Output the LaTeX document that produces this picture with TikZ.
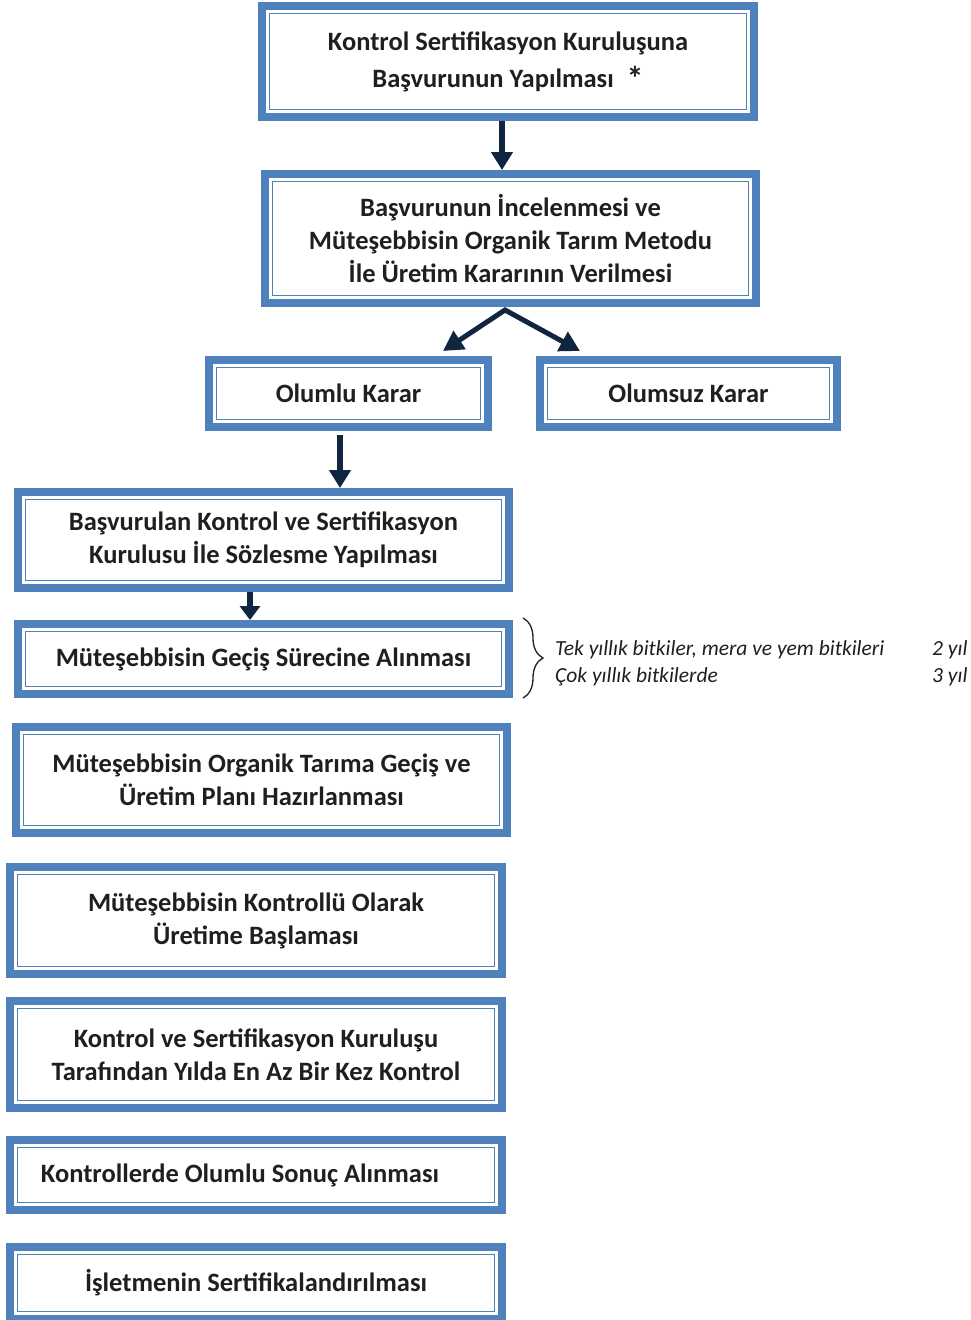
\documentclass[tikz,border=0pt]{standalone}
\usepackage{fontspec}
\setmainfont{Carlito}
\usetikzlibrary{arrows.meta,decorations.pathreplacing}
\definecolor{bxblue}{HTML}{4F81BD}
\definecolor{navy}{HTML}{10253F}
\definecolor{txt}{HTML}{1F1F1F}
\tikzset{
  bx/.style={draw=bxblue, line width=8pt, fill=white, inner sep=0pt, text=txt,
    font=\bfseries\fontsize{26.5}{33}\selectfont, align=center,
    path picture={\draw[bxblue,line width=1.6pt]
      ([shift={(7.5pt,7.5pt)}]path picture bounding box.south west) rectangle
      ([shift={(-7.5pt,-7.5pt)}]path picture bounding box.north east);}},
  arr/.style={draw=navy, line width=6.5pt, -{Triangle[length=18pt,width=21pt]}},
  arrsmall/.style={draw=navy, line width=6.5pt, -{Triangle[length=14pt,width=20pt]}},
  vee/.style={draw=navy, line width=5pt, line join=miter,
    {Triangle[length=20pt,width=21pt]}-{Triangle[length=20pt,width=21pt]}},
  itl/.style={inner sep=0pt, text=txt, font=\itshape\fontsize{21.5}{27}\selectfont},
}
\begin{document}
\begin{tikzpicture}[x=1pt,y=-1pt]
\useasboundingbox[fill=white] (0,0) rectangle (970,1320);
\node[bx, minimum width=492pt, minimum height=111pt] (b1) at (508,61.5)
  {Kontrol Sertifikasyon Kuruluşuna\\[4pt]Başvurunun Yapılması\hspace{13pt}{\fontsize{34}{34}\selectfont\raisebox{-3pt}{*}}};
\node[bx, minimum width=491pt, minimum height=129pt] (b2) at (510.5,238.5)
  {Başvurunun İncelenmesi ve\\Müteşebbisin Organik Tarım Metodu\\İle Üretim Kararının Verilmesi};
\node[bx, minimum width=279pt, minimum height=67pt] (olumlu) at (348.5,393.5) {Olumlu Karar};
\node[bx, minimum width=297pt, minimum height=67pt] (olumsuz) at (688.5,393.5) {Olumsuz Karar};
\node[bx, minimum width=491pt, minimum height=96pt] (bas) at (263.5,540)
  {Başvurulan Kontrol ve Sertifikasyon\\Kurulusu İle Sözlesme Yapılması};
\node[bx, minimum width=491pt, minimum height=70pt] (gecis) at (263.5,659)
  {Müteşebbisin Geçiş Sürecine Alınması};
\node[bx, minimum width=491pt, minimum height=106pt] (plan) at (261.5,780)
  {Müteşebbisin Organik Tarıma Geçiş ve\\Üretim Planı Hazırlanması};
\node[bx, minimum width=492pt, minimum height=107pt] (kontr) at (256,920.5)
  {Müteşebbisin Kontrollü Olarak\\Üretime Başlaması};
\node[bx, minimum width=492pt, minimum height=107pt] (kvs) at (256,1054.5)
  {Kontrol ve Sertifikasyon Kuruluşu\\Tarafından Yılda En Az Bir Kez Kontrol};
\node[bx, minimum width=492pt, minimum height=70pt] (sonuc) at (256,1175)
  {Kontrollerde Olumlu Sonuç Alınması\rule{32pt}{0pt}};
\node[bx, minimum width=492pt, minimum height=72pt] (islet) at (256,1283)
  {İşletmenin Sertifikalandırılması};
% arrows
\coordinate (a1) at ([xshift=-6pt]b1.south);
\draw[arr] (a1) -- (a1 |- b2.north);
\coordinate (apex) at ([xshift=-5.5pt,yshift=-3pt]b2.south);
\coordinate (lt) at ([xshift=94.5pt,yshift=5pt]olumlu.north);
\coordinate (rt) at ([xshift=-108.5pt,yshift=5pt]olumsuz.north);
\draw[vee] (lt) -- (apex) -- (rt);
\coordinate (a3) at ([xshift=-8.5pt,yshift=-4pt]olumlu.south);
\draw[arr] (a3) -- (a3 |- bas.north);
\coordinate (a4) at ([xshift=-13.5pt]bas.south);
\draw[arrsmall] (a4) -- (a4 |- gecis.north);
% side note
\coordinate (br1) at (523,618);
\coordinate (br2) at (523,698);
\draw[txt, line width=1.3pt, decorate, decoration={brace,amplitude=20pt}] (br1) -- (br2);
\node[itl, anchor=base west] (t1) at (555,655) {Tek yıllık bitkiler, mera ve yem bitkileri};
\node[itl, anchor=base west] (t2) at (555,682) {Çok yıllık bitkilerde};
\node[itl, anchor=base west] (y1) at (932,655) {2 yıl};
\node[itl, anchor=base west] (y2) at (932,682) {3 yıl};
\end{tikzpicture}
\end{document}
